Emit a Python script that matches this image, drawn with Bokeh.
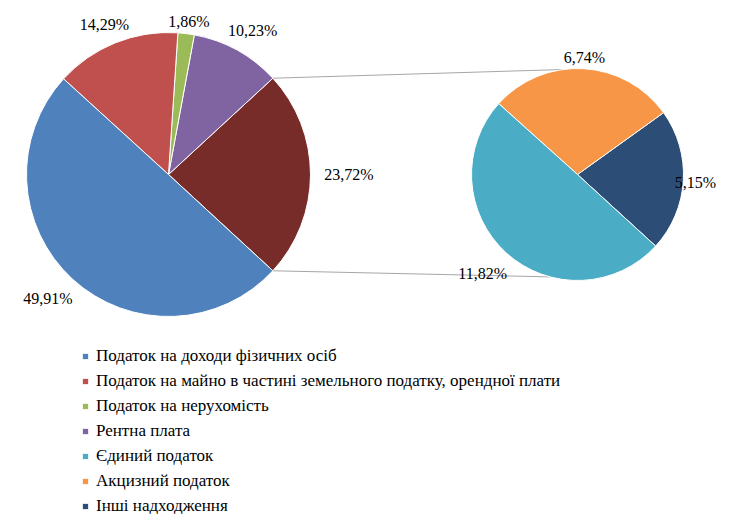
import numpy as np
from bokeh.plotting import figure
from bokeh.models import Range1d, ColumnDataSource, Legend, LegendItem
from bokeh.core.properties import value
from bokeh.embed import file_html
from bokeh.resources import INLINE

# ---------------- data ----------------
main_labels = ["Податок на доходи фізичних осіб",
               "Податок на майно в частині земельного податку, орендної плати",
               "Податок на нерухомість",
               "Рентна плата"]
main_values = [49.91, 14.29, 1.86, 10.23]
main_colors = ["#4F81BD", "#C0504D", "#9BBB59", "#8064A2"]

other_value = 23.72
other_color = "#772C2A"

sub_labels = ["Єдиний податок", "Акцизний податок", "Інші надходження"]
sub_values = [11.82, 6.74, 5.15]
sub_colors = ["#4BACC6", "#F79646", "#2C4D75"]

# ---------------- layout constants ----------------
W, H = 718, 514
FONT = "'Liberation Serif', 'Times New Roman', serif"
main_cx, main_cy, main_r = 168, H - 174, 142
main_lrx, main_lry = 147, 137      # label ellipse
sub_cx, sub_cy, sub_r = 577, H - 174, 106
sub_lrx, sub_lry = 110, 102
sub_start_deg = -42.5
conn_top_deg, conn_bot_deg = 98, 255


def fmt(v):
    return f"{v:.2f}".replace(".", ",") + "%"


def slices(vals, start):
    fr = np.array(vals, dtype=float) / np.sum(vals) * 2 * np.pi
    ends = start + np.cumsum(fr)
    starts = ends - fr
    return starts, ends


def label_pos(cx, cy, rx, ry, starts, ends, texts, pad=4):
    mid = (starts + ends) / 2
    c, s = np.cos(mid), np.sin(mid)
    hw = np.array([len(t) * 4.4 + 3 for t in texts])
    hh = 10.0
    d = pad + hw * np.abs(c) + hh * np.abs(s)
    lx = np.minimum(cx + rx * c + d * c, W - hw + 2)
    return lx, cy + ry * s + d * s


p = figure(width=W, height=H, output_backend="svg", toolbar_location=None,
           x_range=Range1d(0, W), y_range=Range1d(0, H), min_border=0,
           outline_line_color=None)
p.axis.visible = False
p.grid.visible = False

# main pie: anticlockwise from "other" slice centred on the right
ring_vals = [other_value] + main_values[::-1]
ring_colors = [other_color] + main_colors[::-1]
ring_text = [fmt(v) for v in ring_vals]
frac0 = ring_vals[0] / sum(ring_vals) * 2 * np.pi
m_st, m_en = slices(ring_vals, -frac0 / 2)
mlx, mly = label_pos(main_cx, main_cy, main_lrx, main_lry, m_st, m_en, ring_text)
msrc = ColumnDataSource(dict(x=[main_cx] * 5, y=[main_cy] * 5, s=m_st, e=m_en,
                             c=ring_colors, lx=mlx, ly=mly, t=ring_text))

# secondary pie
s_vals = sub_values[::-1]
s_cols = sub_colors[::-1]
s_text = [fmt(v) for v in s_vals]
s_st, s_en = slices(s_vals, np.deg2rad(sub_start_deg))
slx, sly = label_pos(sub_cx, sub_cy, sub_lrx, sub_lry, s_st, s_en, s_text)
ssrc = ColumnDataSource(dict(x=[sub_cx] * 3, y=[sub_cy] * 3, s=s_st, e=s_en,
                             c=s_cols, lx=slx, ly=sly, t=s_text))

# connector lines
a_top, a_bot = m_en[0], m_st[0]
ta, ba = np.deg2rad(conn_top_deg), np.deg2rad(conn_bot_deg)
p.segment(x0=[main_cx + main_r * np.cos(a_top), main_cx + main_r * np.cos(a_bot)],
          y0=[main_cy + main_r * np.sin(a_top), main_cy + main_r * np.sin(a_bot)],
          x1=[sub_cx + sub_r * np.cos(ta), sub_cx + sub_r * np.cos(ba)],
          y1=[sub_cy + sub_r * np.sin(ta), sub_cy + sub_r * np.sin(ba)],
          line_color="#A6A6A6", line_width=1)

rm = p.wedge(x="x", y="y", radius=main_r, radius_units="screen",
             start_angle="s", end_angle="e", fill_color="c",
             line_color="white", line_width=1, source=msrc)
rs = p.wedge(x="x", y="y", radius=sub_r, radius_units="screen",
             start_angle="s", end_angle="e", fill_color="c",
             line_color="white", line_width=1, source=ssrc)

for src in (msrc, ssrc):
    p.text(x="lx", y="ly", text="t", source=src, text_font=value(FONT),
           text_font_size="16px", text_color="black",
           text_align="center", text_baseline="middle")

n = len(ring_vals)
items = [LegendItem(label=main_labels[i], renderers=[rm], index=n - 1 - i)
         for i in range(len(main_labels))]
items += [LegendItem(label=sub_labels[i], renderers=[rs], index=len(s_vals) - 1 - i)
          for i in range(len(sub_labels))]

legend = Legend(items=items, location=(81, -4), orientation="vertical",
                glyph_width=8, glyph_height=8, label_standoff=7,
                label_height=25, spacing=0, padding=0, margin=0,
                border_line_color=None, background_fill_alpha=0,
                label_text_font=FONT, label_text_font_size="17px",
                label_text_color="black")
p.add_layout(legend)

open("out.html", "w").write(file_html(p, INLINE))
